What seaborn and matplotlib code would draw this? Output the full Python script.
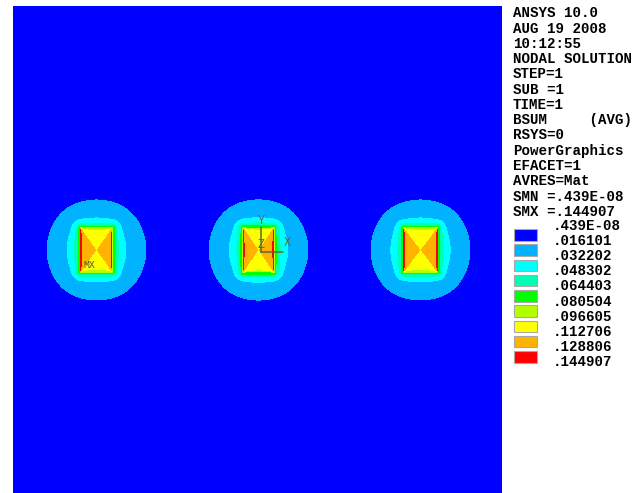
import numpy as np
import matplotlib
matplotlib.use("Agg")
import matplotlib.pyplot as plt
from matplotlib.colors import ListedColormap
from matplotlib.patches import Rectangle
import seaborn as sns

# Three rectangular conductors (centres and cross-section, in units of conductor spacing)
conductor_x = [-1.0, 0.0, 1.0]
conductor_y = [0.0, 0.0, 0.0]
conductor_w = [0.198, 0.193, 0.21]
conductor_h = [0.272, 0.278, 0.272]

# Contour levels of BSUM and their legend labels
levels = [0.439e-8, 0.016101, 0.032202, 0.048302, 0.064403,
          0.080504, 0.096605, 0.112706, 0.128806, 0.144907]
level_labels = [".439E-08", ".016101", ".032202", ".048302", ".064403",
                ".080504", ".096605", ".112706", ".128806", ".144907"]
band_colors = ["#0000ff", "#00b2ff", "#00ffff", "#00ffb2", "#00ff00",
               "#b2ff00", "#ffff00", "#ffb200", "#ff0000"]

header_lines = ["ANSYS 10.0", "AUG 19 2008", "10:12:55", "NODAL SOLUTION",
                "STEP=1", "SUB =1", "TIME=1", "BSUM     (AVG)", "RSYS=0",
                "PowerGraphics", "EFACET=1", "AVRES=Mat",
                "SMN =.439E-08", "SMX =.144907"]

# Model window
xlim = (-1.515, 1.503)
ylim = (-1.500, 1.506)
nx, ny = 489, 487

# Field model constants
B_EDGE = 0.086     # flux density just outside a conductor face
R_DECAY = 0.0494   # decay length of the external field
N_DECAY = 1.04
R_EQ = 0.111       # equivalent round-conductor radius for the far field
L_BLEND = 0.0617   # blend length between rectangular and round far field
B_CORE = 0.1127


def flux_density(X, Y):
    B = np.zeros_like(X)
    for cx, cy, w, h in zip(conductor_x, conductor_y, conductor_w, conductor_h):
        hw, hh = w / 2, h / 2
        dx, dy = np.abs(X - cx), np.abs(Y - cy)
        ex, ey = np.maximum(dx - hw, 0), np.maximum(dy - hh, 0)
        rho_rect = np.hypot(ex, ey)
        rho_circ = np.hypot(dx, dy) - R_EQ
        wgt = 1.0 / (1.0 + (rho_rect / L_BLEND) ** 2)
        d = np.clip(wgt * rho_rect + (1 - wgt) * rho_circ, 0, None)
        outside = B_EDGE * (R_DECAY / (d + R_DECAY)) ** N_DECAY
        B = np.maximum(B, outside)
        u, v = dx / hw, dy / hh
        core = (B_CORE + 0.012 * (u ** 2 - v ** 2)
                + 0.03 * u ** 12 - 0.03 * v ** 16)
        inside = (dx <= hw) & (dy <= hh)
        B = np.where(inside, core, B)
    return B


cell_x = (xlim[1] - xlim[0]) / nx
cell_y = (ylim[1] - ylim[0]) / ny
xs = xlim[0] + (np.arange(nx) + 0.5) * cell_x
ys = ylim[1] - (np.arange(ny) + 0.5) * cell_y
X, Y = np.meshgrid(xs, ys)
B = flux_density(X, Y)
band = np.clip(np.digitize(B, levels) - 1, 0, len(band_colors) - 1)


def to_cell(x, y):
    return (x - xlim[0]) / cell_x, (ylim[1] - y) / cell_y


sns.set_style("white")
plt.rcParams["font.family"] = ["Liberation Mono", "DejaVu Sans Mono"]

W, H = 636, 493
fig = plt.figure(figsize=(W / 100, H / 100), dpi=100)
fig.patch.set_facecolor("white")
ax = fig.add_axes([13 / W, 0, nx / W, ny / H])
sns.heatmap(band, ax=ax, cmap=ListedColormap(band_colors), vmin=-0.5,
            vmax=len(band_colors) - 0.5, cbar=False,
            xticklabels=False, yticklabels=False, rasterized=True)
for s in ax.spines.values():
    s.set_visible(False)

# Global coordinate triad at the middle conductor
triad_color = "#56683c"
ox, oy = conductor_x[1] + 0.015, conductor_y[1] - 0.012
c0 = to_cell(ox, oy)
cy_end = to_cell(ox, oy + 0.155)
cx_end = to_cell(ox + 0.136, oy)
ax.plot([c0[0], cy_end[0]], [c0[1], cy_end[1]], color=triad_color, lw=1.1)
ax.plot([c0[0], cx_end[0]], [c0[1], cx_end[1]], color=triad_color, lw=1.1)
for lab, (tx, ty) in {"Y": (ox, oy + 0.19), "X": (ox + 0.16, oy + 0.056),
                      "Z": (ox + 0.0, oy + 0.045)}.items():
    px, py = to_cell(tx, ty)
    ax.text(px, py, lab, color=triad_color, fontsize=8.5, ha="center", va="center")

# Location of the maximum
mx, my = to_cell(conductor_x[0] - 0.046, conductor_y[0] - 0.093)
ax.text(mx, my, "MX", color="#55552c", fontsize=7, ha="center", va="center")

# Header text
for k, line in enumerate(header_lines):
    fig.text(513 / W, 1 - (13.3 + 15.27 * k) / H, line, fontsize=10.2,
             fontweight="bold", ha="left", va="center", color="black")

# Contour legend
for i, col in enumerate(band_colors):
    top = 229 + 15.25 * i
    fig.patches.append(Rectangle((514 / W, 1 - (top + 11.5) / H), 23 / W, 11.5 / H,
                                 transform=fig.transFigure, facecolor=col,
                                 edgecolor="#a8a8a8", lw=0.8))
for i, lab in enumerate(level_labels):
    fig.text(553 / W, 1 - (226 + 15.1 * i) / H, lab, fontsize=10.2,
             fontweight="bold", ha="left", va="center", color="black")

fig.savefig("out.png", dpi=100)
